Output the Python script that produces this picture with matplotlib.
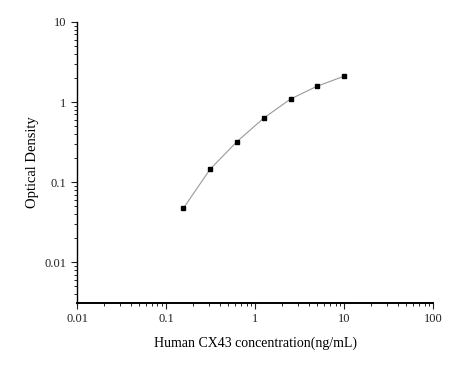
import matplotlib
matplotlib.use('Agg')
import matplotlib.pyplot as plt
from matplotlib.ticker import LogLocator, FixedFormatter, FixedLocator

plt.rcParams['font.family'] = ['Liberation Serif', 'DejaVu Serif']

# standard curve data
conc = [0.156, 0.3125, 0.625, 1.25, 2.5, 5, 10]
od = [0.047, 0.145, 0.32, 0.63, 1.09, 1.58, 2.1]

x_ticks = [0.01, 0.1, 1, 10, 100]
x_labels = ['0.01', '0.1', '1', '10', '100']
y_ticks = [0.01, 0.1, 1, 10]
y_labels = ['0.01', '0.1', '1', '10']

fig = plt.figure(figsize=(4.56, 3.65), dpi=100)
ax = fig.add_axes([0.169, 0.170, 0.781, 0.770])

ax.plot(conc, od, color='#999999', lw=0.8, zorder=1)
ax.plot(conc, od, ls='none', marker='s', ms=3.5, color='black', zorder=2)

ax.set_xscale('log')
ax.set_yscale('log')
ax.set_xlim(0.01, 100)
ax.set_ylim(0.0031, 10)

ax.xaxis.set_major_locator(FixedLocator(x_ticks))
ax.xaxis.set_major_formatter(FixedFormatter(x_labels))
ax.yaxis.set_major_locator(FixedLocator(y_ticks))
ax.yaxis.set_major_formatter(FixedFormatter(y_labels))
ax.xaxis.set_minor_locator(LogLocator(base=10, subs=range(2, 10)))
ax.yaxis.set_minor_locator(LogLocator(base=10, subs=range(2, 10)))

ax.spines['top'].set_visible(False)
ax.spines['right'].set_visible(False)
ax.spines['left'].set_linewidth(1.0)
ax.spines['bottom'].set_linewidth(1.4)

ax.tick_params(which='major', direction='out', length=4, width=0.8, labelsize=9, colors='#222222')
ax.tick_params(which='minor', direction='out', length=2, width=0.6)

ax.set_xlabel('Human CX43 concentration(ng/mL)', fontsize=10, labelpad=8)
ax.set_ylabel('Optical Density', fontsize=10.5, labelpad=4)

fig.savefig('out.png', dpi=100)
